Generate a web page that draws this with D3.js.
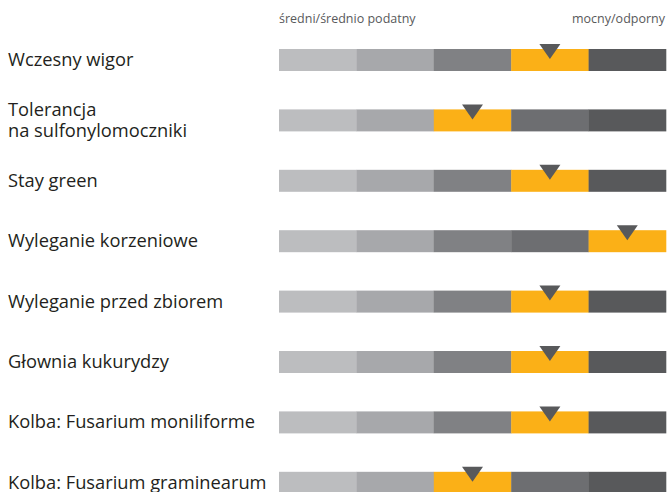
<!DOCTYPE html>
<html>
<head>
<meta charset="utf-8">
<script src="https://cdn.jsdelivr.net/npm/d3@7"></script>
<style>
  body { margin: 0; background: #fff; }
  text { font-family: "Open Sans", sans-serif; }
</style>
</head>
<body>
<div id="chart"></div>
<script>
// traits, one row each (line breaks with \n)
var traits = [
  "Wczesny wigor",
  "Tolerancja\nna sulfonylomoczniki",
  "Stay green",
  "Wyleganie korzeniowe",
  "Wyleganie przed zbiorem",
  "Głownia kukurydzy",
  "Kolba: Fusarium moniliforme",
  "Kolba: Fusarium graminearum"
];
// selected level on the 1..5 scale
var levels = [4, 3, 4, 5, 4, 4, 4, 3];
var scaleSteps = [1, 2, 3, 4, 5];
var scaleLabels = ["średni/średnio podatny", "mocny/odporny"];

var width = 667, height = 492;
var segColors = ["#bcbdbf", "#a7a8ab", "#808184", "#6d6e71", "#58595b"];
var highlight = "#fbb017";

var svg = d3.select("#chart").append("svg")
  .attr("width", width)
  .attr("height", height);

var x = d3.scaleLinear()
  .domain([0.5, 5.5])
  .range([279, 666]);

// row step 60.4, bars 22 high, first bar top at y=49
var y = d3.scaleBand()
  .domain(traits)
  .range([29.8, 29.8 + 60.4 * traits.length])
  .paddingInner(0.636)
  .paddingOuter(0.318);

var segW = x(2) - x(1);

var rows = svg.selectAll("g.row")
  .data(traits)
  .enter()
  .append("g")
  .attr("class", "row")
  .attr("transform", function(d) { return "translate(0," + y(d) + ")"; });

rows.selectAll("rect")
  .data(function(d, i) {
    return scaleSteps.map(function(s) { return { step: s, on: s === levels[i] }; });
  })
  .enter()
  .append("rect")
  .attr("x", function(d) { return x(d.step - 0.5); })
  .attr("y", 0)
  .attr("width", segW + 0.3)
  .attr("height", y.bandwidth())
  .attr("fill", function(d) { return d.on ? highlight : segColors[d.step - 1]; });

// marker triangle
rows.append("path")
  .attr("d", function(d, i) {
    var cx = x(levels[i]);
    return "M" + (cx - 10.5) + ",-5 L" + (cx + 10.5) + ",-5 L" + cx + ",10 Z";
  })
  .attr("fill", "#58595b");

// row labels
rows.append("text")
  .attr("x", 8)
  .attr("font-size", 18.3)
  .attr("fill", "#231f20")
  .each(function(d) {
    var lines = d.split("\n");
    var t = d3.select(this);
    var start = lines.length > 1 ? 6.7 : 17;
    lines.forEach(function(l, k) {
      t.append("tspan")
        .attr("x", 8)
        .attr("y", start + k * 20.5)
        .text(l);
    });
  });

// scale header
svg.append("text")
  .attr("x", 279)
  .attr("y", 23)
  .attr("font-size", 12.5)
  .attr("fill", "#58595b")
  .text(scaleLabels[0]);

svg.append("text")
  .attr("x", 665)
  .attr("y", 23)
  .attr("text-anchor", "end")
  .attr("font-size", 12.5)
  .attr("fill", "#58595b")
  .text(scaleLabels[1]);
</script>
</body>
</html>
